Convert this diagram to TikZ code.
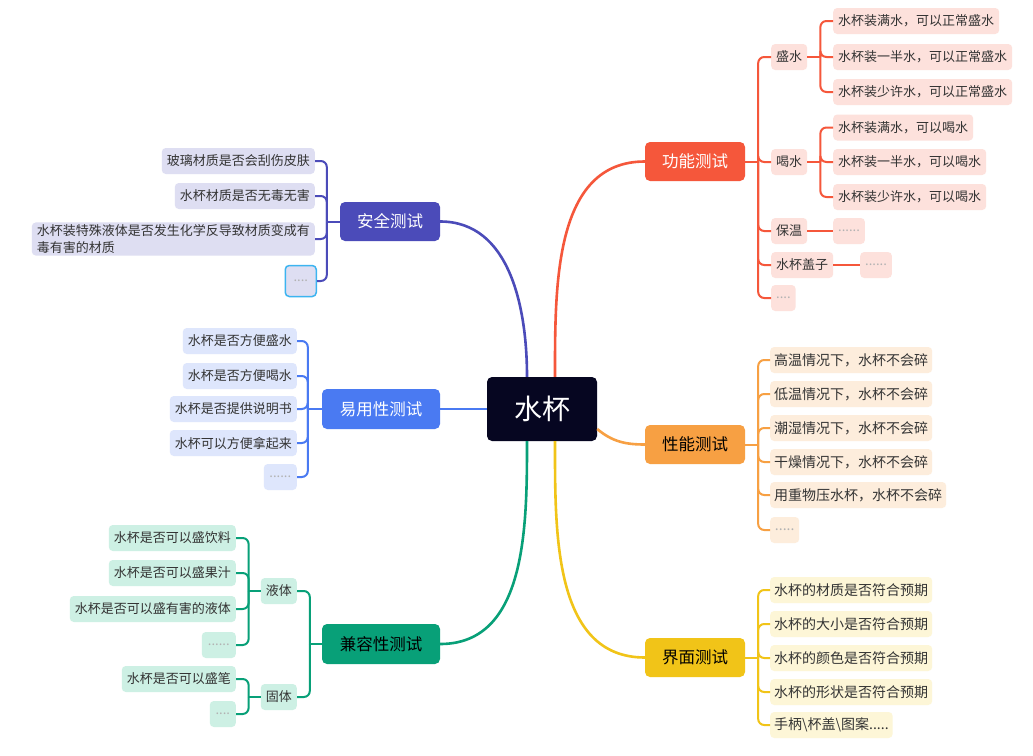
\documentclass[tikz,border=0pt]{standalone}
\usepackage{fontspec}
\setmainfont{Noto Sans CJK SC}
\definecolor{rootC}{RGB}{6,6,33}
\definecolor{funcC}{RGB}{245,87,59}
\definecolor{funcL}{RGB}{253,225,220}
\definecolor{perfC}{RGB}{247,160,67}
\definecolor{perfL}{RGB}{253,237,220}
\definecolor{uiC}{RGB}{241,196,24}
\definecolor{uiL}{RGB}{253,246,215}
\definecolor{safeC}{RGB}{75,75,185}
\definecolor{safeL}{RGB}{222,222,242}
\definecolor{easeC}{RGB}{74,122,242}
\definecolor{easeL}{RGB}{222,230,252}
\definecolor{compC}{RGB}{8,160,120}
\definecolor{compL}{RGB}{205,240,228}
\definecolor{selC}{RGB}{60,180,240}
\begin{document}
\begin{tikzpicture}[x=1pt,y=-1pt]
  \tikzset{rootbox/.style={shape=rectangle,rounded corners=5pt,fill=rootC,text=white,minimum width=110pt,minimum height=64pt,font=\fontsize{28}{30}\selectfont},
    topicbox/.style={shape=rectangle,rounded corners=5pt,minimum width=100pt,minimum height=39pt,font=\fontsize{16.5}{18}\selectfont},
    leafbox/.style={shape=rectangle,rounded corners=4pt,minimum height=26pt,inner xsep=5pt,inner ysep=2pt,text=black!80,font=\fontsize{13}{17}\selectfont},
    bigtext/.style={font=\fontsize{14}{17}\selectfont,inner xsep=4pt},
    dimtext/.style={text=black!30},
    limb/.style={line width=2.6pt},
    twig/.style={line width=2pt,rounded corners=6pt}};
  \useasboundingbox (0,0) rectangle (1033,755);
  \fill[white] (0,0) rectangle (1033,755);
  % main topics
  \node[rootbox](Cup) at (542,409){水杯};
  \node[topicbox,fill=funcC,text=white](Func) at (695,161.5){功能测试};
  \node[topicbox,fill=perfC](Perf) at (695,444.5){性能测试};
  \node[topicbox,fill=uiC](UI) at (695,657.5){界面测试};
  \node[topicbox,fill=safeC,text=white](Safe) at (390,221.5){安全测试};
  \node[topicbox,fill=easeC,text=white,minimum width=118pt,minimum height=40pt](Ease) at (381,409){易用性测试};
  \node[topicbox,fill=compC,minimum width=118pt,minimum height=40pt](Comp) at (381,644){兼容性测试};
  \draw[limb,funcC] ([xshift=13pt]Cup.north) to[out=90,in=180] (Func.west);
  \draw[limb,perfC] ([yshift=-20pt]Cup.east) to[out=-40,in=180] (Perf.west);
  \draw[limb,uiC] ([xshift=13pt]Cup.south) to[out=-90,in=180] (UI.west);
  \draw[limb,safeC] ([xshift=-15pt]Cup.north) to[out=90,in=0] (Safe.east);
  \draw[limb,easeC] (Cup.west) -- (Ease.east);
  \draw[limb,compC] ([xshift=-15pt]Cup.south) to[out=-90,in=0] (Comp.east);

  % 功能测试
  \tikzset{funcleaf/.style={leafbox,fill=funcL,anchor=west}}
  \node[funcleaf](Fill) at (771,57){盛水};
  \node[funcleaf](Drink) at (771,162){喝水};
  \node[funcleaf](Warm) at (771,231){保温};
  \node[funcleaf](Lid) at (771,265){水杯盖子};
  \node[funcleaf,dimtext,minimum width=24pt](FuncMore) at (771,298){....};
  \node[funcleaf](Fill1) at (833,21){水杯装满水，可以正常盛水};
  \node[funcleaf](Fill2) at (833,57){水杯装一半水，可以正常盛水};
  \node[funcleaf](Fill3) at (833,92){水杯装少许水，可以正常盛水};
  \node[funcleaf](Drink1) at (833,127.5){水杯装满水，可以喝水};
  \node[funcleaf](Drink2) at (833,162){水杯装一半水，可以喝水};
  \node[funcleaf](Drink3) at (833,197){水杯装少许水，可以喝水};
  \node[funcleaf,dimtext,minimum width=29pt](WarmMore) at (833,231){......};
  \node[funcleaf,dimtext,minimum width=28pt](LidMore) at (860,265){......};
  \draw[twig,funcC] (Func.east) -- ++(13,0);
  \foreach \c in {Fill,Drink,Warm,Lid,FuncMore}
    \draw[twig,funcC] (Func.east) ++(13,0) |- (\c.west);
  \draw[twig,funcC] (Fill.east) -- ++(13,0);
  \foreach \c in {Fill1,Fill2,Fill3}
    \draw[twig,funcC] (Fill.east) ++(13,0) |- (\c.west);
  \draw[twig,funcC] (Drink.east) -- ++(13,0);
  \foreach \c in {Drink1,Drink2,Drink3}
    \draw[twig,funcC] (Drink.east) ++(13,0) |- (\c.west);
  \draw[twig,funcC] (Warm) -- (WarmMore);
  \draw[twig,funcC] (Lid) -- (LidMore);

  % 性能测试
  \tikzset{perfleaf/.style={leafbox,bigtext,fill=perfL,anchor=west}}
  \node[perfleaf](Perf1) at (770,360){高温情况下，水杯不会碎};
  \node[perfleaf](Perf2) at (770,394){低温情况下，水杯不会碎};
  \node[perfleaf](Perf3) at (770,428){潮湿情况下，水杯不会碎};
  \node[perfleaf](Perf4) at (770,462){干燥情况下，水杯不会碎};
  \node[perfleaf](Perf5) at (770,495){用重物压水杯，水杯不会碎};
  \node[perfleaf,dimtext,minimum width=29pt](PerfMore) at (770,530){.....};
  \draw[twig,perfC] (Perf.east) -- ++(13,0);
  \foreach \c in {Perf1,Perf2,Perf3,Perf4,Perf5,PerfMore}
    \draw[twig,perfC] (Perf.east) ++(13,0) |- (\c.west);

  % 界面测试
  \tikzset{uileaf/.style={leafbox,bigtext,fill=uiL,anchor=west}}
  \node[uileaf](UI1) at (770,590){水杯的材质是否符合预期};
  \node[uileaf](UI2) at (770,624){水杯的大小是否符合预期};
  \node[uileaf](UI3) at (770,658){水杯的颜色是否符合预期};
  \node[uileaf](UI4) at (770,692){水杯的形状是否符合预期};
  \node[uileaf](UI5) at (770,725){手柄\textbackslash 杯盖\textbackslash 图案.....};
  \draw[twig,uiC] (UI.east) -- ++(13,0);
  \foreach \c in {UI1,UI2,UI3,UI4,UI5}
    \draw[twig,uiC] (UI.east) ++(13,0) |- (\c.west);

  % 安全测试
  \tikzset{safeleaf/.style={leafbox,fill=safeL,anchor=east}}
  \node[safeleaf](Safe1) at (315,161){玻璃材质是否会刮伤皮肤};
  \node[safeleaf](Safe2) at (315,196){水杯材质是否无毒无害};
  \node[safeleaf,align=left](Safe3) at (315,239){水杯装特殊液体是否发生化学反导致材质变成有\\毒有害的材质};
  \node[safeleaf,dimtext,draw=selC,line width=1.5pt,minimum width=31pt,minimum height=31pt](SafeMore) at (317,281){....};
  \draw[twig,safeC] (Safe.west) -- ++(-13,0);
  \foreach \c in {Safe1,Safe2,Safe3,SafeMore}
    \draw[twig,safeC] (Safe.west) ++(-13,0) |- (\c.east);

  % 易用性测试
  \tikzset{easeleaf/.style={leafbox,fill=easeL,anchor=east}}
  \node[easeleaf](Ease1) at (297,341){水杯是否方便盛水};
  \node[easeleaf](Ease2) at (297,376){水杯是否方便喝水};
  \node[easeleaf](Ease3) at (297,409){水杯是否提供说明书};
  \node[easeleaf](Ease4) at (297,443){水杯可以方便拿起来};
  \node[easeleaf,dimtext,minimum width=33pt](EaseMore) at (297,477){......};
  \draw[twig,easeC] (Ease.west) -- ++(-14,0);
  \foreach \c in {Ease1,Ease2,Ease3,Ease4,EaseMore}
    \draw[twig,easeC] (Ease.west) ++(-14,0) |- (\c.east);

  % 兼容性测试
  \tikzset{compleaf/.style={leafbox,fill=compL,anchor=east}}
  \node[compleaf](Liquid) at (297,591){液体};
  \node[compleaf](Solid) at (297,697){固体};
  \node[compleaf](Liquid1) at (236,538){水杯是否可以盛饮料};
  \node[compleaf](Liquid2) at (236,573){水杯是否可以盛果汁};
  \node[compleaf](Liquid3) at (236,609){水杯是否可以盛有害的液体};
  \node[compleaf,dimtext,minimum width=34pt](LiquidMore) at (236,645){......};
  \node[compleaf](Solid1) at (236,679){水杯是否可以盛笔};
  \node[compleaf,dimtext,minimum width=26pt](SolidMore) at (236,714){....};
  \draw[twig,compC] (Comp.west) -- ++(-12,0);
  \foreach \c in {Liquid,Solid}
    \draw[twig,compC] (Comp.west) ++(-12,0) |- (\c.east);
  \draw[twig,compC] (Liquid.west) -- ++(-12,0);
  \foreach \c in {Liquid1,Liquid2,Liquid3,LiquidMore}
    \draw[twig,compC] (Liquid.west) ++(-12,0) |- (\c.east);
  \draw[twig,compC] (Solid.west) -- ++(-12,0);
  \foreach \c in {Solid1,SolidMore}
    \draw[twig,compC] (Solid.west) ++(-12,0) |- (\c.east);
\end{tikzpicture}
\end{document}
